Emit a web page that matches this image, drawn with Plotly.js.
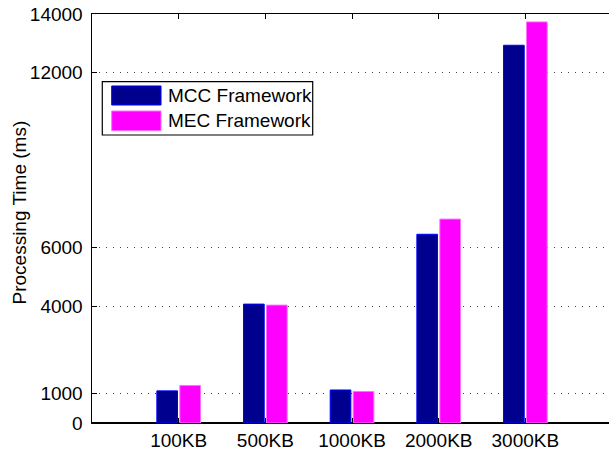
<!DOCTYPE html>
<html>
<head>
<meta charset="utf-8">
<script src="https://cdn.plot.ly/plotly-3.0.1.min.js"></script>
<style>html,body{margin:0;padding:0;background:#fff;}#chart{width:609px;height:452px;}</style>
</head>
<body>
<div id="chart"></div>
<script>
const categories = ['100KB', '500KB', '1000KB', '2000KB', '3000KB'];
const seriesNames = ['MCC Framework', 'MEC Framework'];
const mccValues = [1100, 4070, 1130, 6460, 12930];
const mecValues = [1285, 4035, 1080, 6980, 13730];
const yTickVals = [0, 1000, 4000, 6000, 12000, 14000];
const yTickText = ['0', '1000', '4000', '6000', '12000', '14000'];
const yTitle = 'Processing Time (ms)';

const fillColors = ['#00008f', '#ff00ff'];
const edgeColors = ['#0000ff', '#ff70ff'];
const FONT = 'Liberation Sans, Arial, Helvetica, sans-serif';
const FS = 19;

const traces = [mccValues, mecValues].map((vals, i) => ({
  type: 'bar',
  x: categories,
  y: vals,
  name: seriesNames[i],
  marker: {color: fillColors[i], line: {color: edgeColors[i], width: 1}},
  showlegend: false,
  hoverinfo: 'skip'
}));

// custom legend (paper coordinates)
const shapes = [
  {type: 'rect', xref: 'paper', yref: 'paper', x0: 0.0199, x1: 0.4269, y0: 0.7042, y1: 0.8345,
   line: {color: '#000', width: 1.2}, fillcolor: '#fff', layer: 'above'},
  {type: 'rect', xref: 'paper', yref: 'paper', x0: 0.0381, x1: 0.1335, y0: 0.7775, y1: 0.8240,
   line: {color: edgeColors[0], width: 1}, fillcolor: fillColors[0], layer: 'above'},
  {type: 'rect', xref: 'paper', yref: 'paper', x0: 0.0381, x1: 0.1335, y0: 0.7147, y1: 0.7628,
   line: {color: edgeColors[1], width: 1}, fillcolor: fillColors[1], layer: 'above'}
];

const annotations = [
  {xref: 'paper', yref: 'paper', x: 0.1431, y: 0.8007, xanchor: 'left', yanchor: 'middle',
   text: seriesNames[0], showarrow: false, font: {family: FONT, size: FS, color: '#000'}},
  {xref: 'paper', yref: 'paper', x: 0.1431, y: 0.7387, xanchor: 'left', yanchor: 'middle',
   text: seriesNames[1], showarrow: false, font: {family: FONT, size: FS, color: '#000'}},
  {xref: 'paper', yref: 'paper', x: -0.1412, y: 0.5147, xanchor: 'center', yanchor: 'middle',
   text: yTitle, textangle: -90, showarrow: false, font: {family: FONT, size: FS, color: '#000'}}
];

const layout = {
  width: 609, height: 452,
  margin: {l: 92, r: 0, t: 14, b: 29, pad: 0},
  paper_bgcolor: '#fff', plot_bgcolor: '#fff',
  font: {family: FONT, size: FS, color: '#000'},
  barmode: 'group', bargap: 0.47, bargroupgap: 0.1,
  xaxis: {
    type: 'category', range: [-1, 4.965],
    showline: true, linecolor: '#000', linewidth: 1, mirror: 'ticks',
    ticks: 'inside', ticklen: 5, tickcolor: '#000', tickwidth: 1,
    showgrid: false, zeroline: false,
    tickfont: {family: FONT, size: FS, color: '#000'}
  },
  yaxis: {
    range: [0, 14000], tickvals: yTickVals, ticktext: yTickText,
    showline: true, linecolor: '#000', linewidth: 1.5, mirror: false,
    ticks: 'inside', ticklen: 5, tickcolor: '#000', tickwidth: 1,
    showgrid: true, gridcolor: '#444', gridwidth: 1, griddash: '1px,6px',
    zeroline: true, zerolinecolor: '#000', zerolinewidth: 2,
    tickfont: {family: FONT, size: FS, color: '#000'}, ticklabelstandoff: 4
  },
  shapes: shapes,
  annotations: annotations
};

Plotly.newPlot('chart', traces, layout, {displayModeBar: false, staticPlot: true});
</script>
</body>
</html>
